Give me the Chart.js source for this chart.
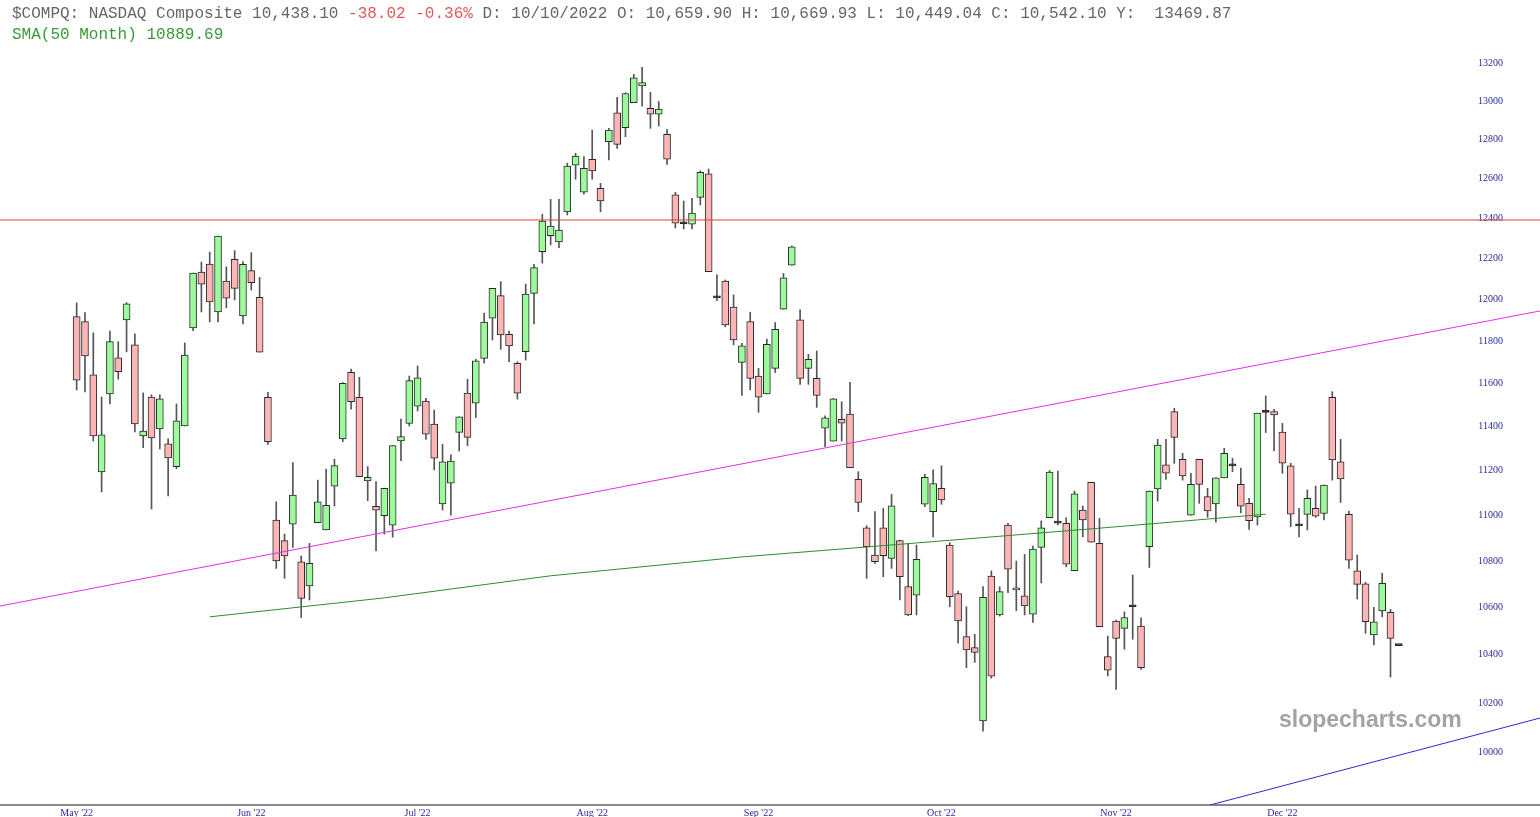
<!DOCTYPE html>
<html lang="en">
<head>
  <meta charset="UTF-8">
  <title>$COMPQ NASDAQ Composite</title>
  <script src="https://cdn.jsdelivr.net/npm/chart.js"></script>
  <style>
    html, body { margin: 0; padding: 0; background: #fff; }
    #chart { display: block; }
  </style>
</head>
<body>
  <canvas id="chart" width="1540" height="817"></canvas>
  <script>
    // daily candles, index 0 = 9 May 2022
    const opens = [
      11918, 11894, 11641, 11195, 11552, 11721, 11902, 11783, 11359, 11538,
      11390, 11322, 11219, 11404, 11864, 12134, 12173, 11940, 12090, 12196,
      11921, 12141, 12011, 11537, 10980, 10889, 10962, 10797, 10692, 10968,
      10936, 11131, 11345, 11653, 11537, 11154, 11041, 10999, 10957, 11336,
      11416, 11496, 11519, 11413, 11051, 11144, 11374, 11556, 11509, 11719,
      11910, 12019, 11833, 11696, 11751, 12030, 12234, 12313, 12282, 12431,
      12668, 12530, 12698, 12550, 12788, 12938, 12860, 12991, 13078, 12961,
      12931, 12826, 12517, 12372, 12370, 12504, 12623, 12015, 12090, 11964,
      11700, 11894, 11636, 11552, 11672, 11953, 12167, 11902, 11672, 11625,
      11394, 11335, 11435, 11459, 11161, 10946, 10826, 10946, 10811, 10889,
      10690, 10653, 11050, 11017, 11121, 10870, 10659.90, 10476, 10430, 10126,
      10735, 10568, 10958, 10683, 10650, 10571, 10860, 10990, 10970, 10965,
      10758, 11024, 11148, 10877, 10392, 10542, 10511, 10603, 10521, 10863,
      11118, 11227, 11470, 11252, 11002, 11252, 11084, 11051, 11168, 11226,
      11139, 11054, 10994, 11467, 11470, 11376, 11222, 10958, 11005, 11032,
      11009, 11537, 11241, 11005, 10758, 10701, 10483, 10585, 10579, 10438.10
    ];
    const highs = [
      11984, 11937, 11840, 11538, 11849, 11798, 11985, 11835, 11557, 11548,
      11548, 11345, 11506, 11792, 12129, 12183, 12232, 12311, 12159, 12239,
      12185, 12229, 12108, 11560, 11061, 10918, 11237, 10822, 10877, 11158,
      11208, 11252, 11605, 11669, 11630, 11219, 11151, 11122, 11314, 11436,
      11636, 11683, 11532, 11478, 11320, 11272, 11446, 11621, 11715, 11935,
      12054, 12087, 11849, 11703, 12075, 12172, 12419, 12494, 12494, 12678,
      12728, 12711, 12848, 12575, 12857, 13019, 13043, 13140, 13177, 13045,
      12997, 12851, 12530, 12486, 12499, 12639, 12648, 12120, 12095, 12022,
      11790, 11939, 11672, 11811, 11889, 12127, 12262, 11950, 11738, 11754,
      11451, 11532, 11516, 11606, 11196, 10955, 11017, 11032, 11094, 10892,
      10877, 10870, 11184, 11204, 11223, 10880, 10669.93, 10603, 10486, 10689,
      10757, 10689, 10965, 10800, 10829, 10865, 10976, 11201, 11199, 10990,
      11109, 11042, 11148, 10987, 10479, 10546, 10581, 10739, 10556, 11109,
      11343, 11343, 11486, 11279, 11189, 11252, 11121, 11168, 11302, 11257,
      11212, 11076, 11463, 11543, 11481, 11416, 11234, 11032, 11114, 11131,
      11136, 11563, 11343, 11020, 10826, 10708, 10600, 10747, 10592, 10438.10
    ];
    const lows = [
      11571, 11562, 11335, 11105, 11506, 11621, 11750, 11377, 11305, 11029,
      11299, 11087, 11209, 11404, 11851, 11940, 11892, 11892, 11960, 11998,
      11883, 12046, 11748, 11320, 10768, 10725, 10860, 10557, 10632, 10968,
      10936, 11042, 11332, 11481, 11173, 11066, 10844, 10918, 10904, 11246,
      11404, 11473, 11343, 11204, 11024, 11002, 11290, 11314, 11443, 11696,
      11806, 11762, 11703, 11528, 11711, 11883, 12177, 12267, 12254, 12416,
      12596, 12520, 12596, 12432, 12694, 12754, 12814, 12991, 12973, 12857,
      12869, 12671, 12351, 12346, 12346, 12466, 12136, 11995, 11869, 11783,
      11545, 11571, 11467, 11552, 11653, 11953, 12167, 11597, 11597, 11490,
      11309, 11335, 11335, 11214, 11017, 10725, 10790, 10732, 10768, 10632,
      10565, 10568, 11039, 10906, 11050, 10603, 10449.04, 10346, 10368, 10085,
      10302, 10563, 10663, 10586, 10568, 10536, 10705, 10990, 10958, 10775,
      10758, 10906, 10882, 10518, 10311, 10256, 10423, 10465, 10339, 10772,
      11064, 11161, 11234, 11158, 11002, 11054, 10992, 10970, 11168, 11196,
      11012, 10939, 10958, 11374, 11291, 11189, 10950, 10906, 10936, 10992,
      10980, 11158, 11058, 10768, 10636, 10490, 10441, 10560, 10307, 10438.10
    ];
    const closes = [
      11617, 11730, 11359, 11363, 11798, 11656, 11979, 11413, 11381, 11349,
      11529, 11258, 11428, 11735, 12129, 12075, 11988, 12311, 12007, 12054,
      12172, 12082, 11748, 11332, 10801, 10822, 11091, 10639, 10790, 11061,
      11045, 11223, 11602, 11516, 11173, 11171, 11024, 11121, 11314, 11356,
      11614, 11628, 11366, 11257, 11241, 11244, 11446, 11352, 11707, 11891,
      12054, 11830, 11778, 11556, 12026, 12155, 12386, 12361, 12341, 12663,
      12714, 12652, 12638, 12487, 12848, 12774, 13039, 13122, 13096, 12931,
      12957, 12698, 12375, 12378, 12425, 12631, 12136, 12008, 11878, 11806,
      11778, 11625, 11537, 11785, 11857, 12106, 12258, 11625, 11714, 11545,
      11442, 11529, 11417, 11214, 11058, 10863, 10797, 10823, 11043, 10732,
      10568, 10808, 11171, 11143, 11069, 10646, 10542.10, 10420, 10410, 10643,
      10311, 10668, 10765, 10675, 10607, 10852, 10946, 11194, 10966, 10786,
      11096, 10980, 10882, 10518, 10336, 10469, 10557, 10608, 10346, 11109,
      11317, 11189, 11352, 11177, 11139, 11139, 11020, 11168, 11279, 11222,
      11042, 10977, 11463, 11474, 11455, 11234, 11006, 10954, 11076, 10997,
      11136, 11249, 11163, 10804, 10699, 10539, 10539, 10704, 10469, 10438.10
    ];

    // month labels on the time axis (candle index under each label)
    const monthLabels = ["May '22", "Jun '22", "Jul '22", "Aug '22", "Sep '22", "Oct '22", "Nov '22", "Dec '22"];
    const monthIdx = [0, 21, 41, 62, 82, 104, 125, 145];

    const yTicks = [10000, 10200, 10400, 10600, 10800, 11000, 11200, 11400, 11600, 11800,
                    12000, 12200, 12400, 12600, 12800, 13000, 13200];

    // 50 month simple moving average, one point per month
    const smaIdx = [16, 37, 57, 80, 101, 122, 143];
    const smaVals = [10560, 10641, 10736, 10818, 10879, 10941, 11006];

    // drawn trend lines [index, value]
    const redLine = [[-9.22, 12391], [175.98, 12391]];
    const magentaLine = [[-9.22, 10606], [175.98, 11945]];
    const blueLine = [[136.3, 9789], [175.98, 10138]];

    const UP = '#9cf99c';
    const DOWN = '#ffb5b5';
    const FLAT = '#222';

    const bodyData = opens.map((o, i) => ({ x: i, y: [Math.min(o, closes[i]), Math.max(o, closes[i])] }));
    const bodyColors = opens.map((o, i) => {
      const c = closes[i];
      if (Math.abs(c - o) / o < 0.0007) return FLAT;   // doji: just a dark dash
      return c >= o ? UP : DOWN;
    });
    const wickData = lows.map((l, i) => ({ x: i, y: [l, highs[i]] }));
    const pts = arr => arr.map(p => ({ x: p[0], y: p[1] }));

    const extras = {
      id: 'extras',
      beforeDatasetsDraw(chart) {
        const c = chart.ctx;
        const xs = chart.scales.x;
        const ys = chart.scales.y;
        const area = chart.chartArea;
        c.save();

        // watermark
        c.font = 'bold 23px "Liberation Sans", Arial, sans-serif';
        c.fillStyle = '#a3a3a3';
        c.textAlign = 'left';
        c.textBaseline = 'middle';
        c.fillText('slopecharts.com', 1279, 721);

        // price labels
        c.font = '10px "Liberation Serif", serif';
        c.fillStyle = '#2a2a9a';
        c.textAlign = 'right';
        yTicks.forEach(v => c.fillText(String(v), 1503, ys.getPixelForValue(v)));

        // bottom axis
        c.strokeStyle = '#8a8a8a';
        c.lineWidth = 2;
        c.beginPath();
        c.moveTo(0, area.bottom);
        c.lineTo(1540, area.bottom);
        c.stroke();

        c.textAlign = 'center';
        c.textBaseline = 'top';
        monthLabels.forEach((t, k) => c.fillText(t, xs.getPixelForValue(monthIdx[k]), area.bottom + 3));

        // header
        c.font = '16px "Liberation Mono", "Courier New", monospace';
        c.textAlign = 'left';
        c.textBaseline = 'alphabetic';
        let x = 12;
        const seg = (txt, col) => { c.fillStyle = col; c.fillText(txt, x, 18); x += c.measureText(txt).width; };
        seg('$COMPQ: NASDAQ Composite 10,438.10 ', '#666');
        seg('-38.02 -0.36%', '#e05a5a');
        seg(' D: 10/10/2022 O: 10,659.90 H: 10,669.93 L: 10,449.04 C: 10,542.10 Y:  13469.87', '#666');
        c.fillStyle = '#3a9a3a';
        c.fillText('SMA(50 Month) 10889.69', 12, 39);
        c.restore();
      }
    };

    new Chart(document.getElementById('chart'), {
      type: 'bar',
      data: {
        datasets: [
          { type: 'line', data: pts(redLine), borderColor: '#e23a3a', borderWidth: 1, pointRadius: 0 },
          { type: 'line', data: pts(magentaLine), borderColor: '#e22ee2', borderWidth: 1, pointRadius: 0 },
          { type: 'line', data: pts(blueLine), borderColor: '#2a2ad0', borderWidth: 1, pointRadius: 0 },
          { type: 'line', data: smaIdx.map((x, k) => ({ x: x, y: smaVals[k] })), borderColor: '#2e8b2e', borderWidth: 1, pointRadius: 0 },
          {
            data: bodyData, backgroundColor: bodyColors, borderColor: '#2a2a2a', borderWidth: 1,
            borderSkipped: false, barThickness: 7, minBarLength: 2, grouped: false
          },
          {
            data: wickData, backgroundColor: '#555', borderWidth: 0,
            barThickness: 1, grouped: false
          }
        ]
      },
      options: {
        responsive: false,
        animation: false,
        events: [],
        layout: { padding: { top: 48, bottom: 12, left: 0, right: 0 } },
        plugins: { legend: { display: false }, tooltip: { enabled: false } },
        scales: {
          x: { type: 'linear', min: -9.22, max: 175.98, offset: false, display: false },
          y: { type: 'logarithmic', min: 9789, max: 13280, display: false }
        }
      },
      plugins: [extras]
    });
  </script>
</body>
</html>
